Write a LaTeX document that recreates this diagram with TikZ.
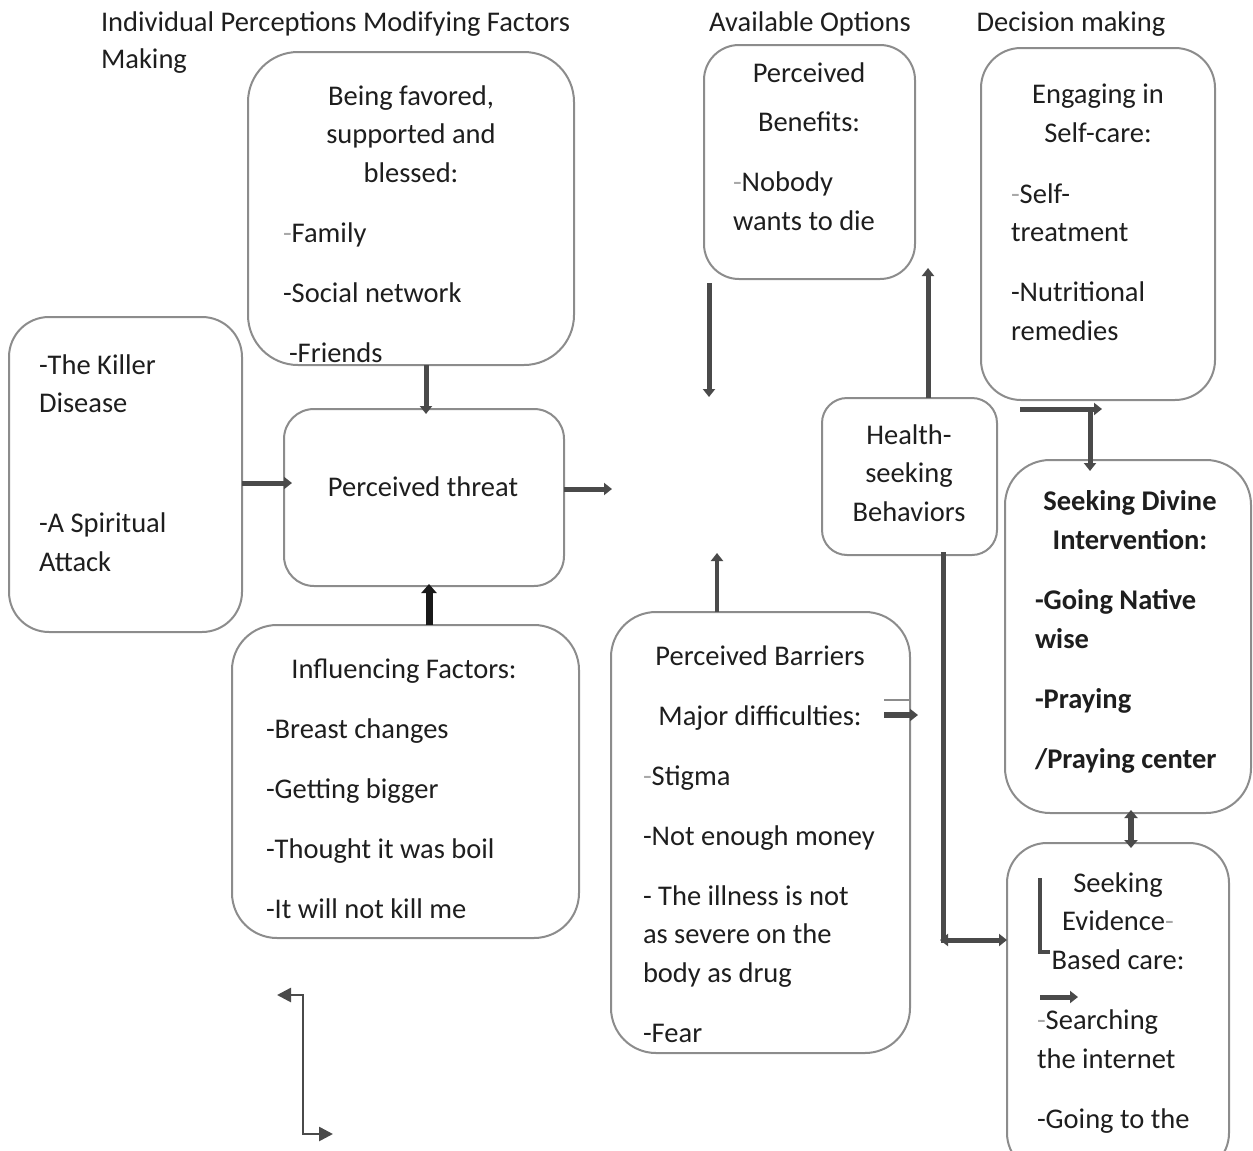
\documentclass[tikz,border=0pt]{standalone}
\usepackage{fontspec}
\setmainfont{Carlito}
\usetikzlibrary{arrows.meta}
\definecolor{bord}{HTML}{8C8C8C}
\definecolor{txt}{HTML}{1E1E1E}
\definecolor{arr}{HTML}{4A4A4A}
\definecolor{dashgray}{HTML}{A8A8A8}
\newcommand\gd{\textcolor{dashgray}{-}}
\begin{document}
\begin{tikzpicture}[x=1pt,y=-1pt,
  every node/.style={inner sep=0pt, outer sep=0pt, text=txt, font=\fontsize{28.5}{38.5}\selectfont},
  box/.style={draw=bord, line width=2pt, rounded corners=#1, fill=white, anchor=north west},
  lbl/.style={align=left, anchor=base west},
  ttl/.style={align=center, anchor=base},
  arrw/.style={draw=arr, line width=5pt, -{Triangle[width=12pt,length=8pt]}},
  thin/.style={draw=arr, line width=2.6pt}]
\useasboundingbox (0,0) rectangle (1253,1151);

% headers (multi-line nodes are placed by the baseline of their last line)
\node[lbl] (h1) at (101,68) {Individual Perceptions Modifying Factors\\[-1.5pt]Making};
\node[ttl] (h2) at (810,31) {Available Options};
\node[ttl] (h3) at (1071,31) {Decision making};

% boxes
\node[box=50pt, minimum width=326pt, minimum height=313pt] (fav) at (248,52) {};
\node[box=40pt, minimum width=233pt, minimum height=315pt] (kil) at (9,317) {};
\node[box=30pt, minimum width=280pt, minimum height=177pt] (thr) at (284,409) {};
\node[box=45pt, minimum width=347pt, minimum height=313pt] (inf) at (232,625) {};
\node[box=35pt, minimum width=211pt, minimum height=234pt] (ben) at (704,45) {};
\node[box=40pt, minimum width=234pt, minimum height=352pt] (eng) at (981,48) {};
\node[box=25pt, minimum width=175pt, minimum height=157pt] (hsb) at (822,398) {};
\node[box=45pt, minimum width=246pt, minimum height=353pt] (div) at (1005,460) {};
\node[box=45pt, minimum width=299pt, minimum height=441pt] (bar) at (611,612) {};
\node[box=40pt, minimum width=222pt, minimum height=330pt] (evi) at (1007,843) {};

% box texts
\node[ttl] (favt) at (411,182) {Being favored,\\supported and\\blessed:};
\node[lbl] (favb) at (283,362) {\gd Family\\[21.5pt]-Social network\\[21.5pt]\hspace*{6pt}-Friends};
\node[lbl] (kilt) at (39,571) {-The Killer\\Disease\\[81.5pt]-A Spiritual\\Attack};
\node[ttl] (thrt) at (423,496) {Perceived threat};
\node[ttl] (inft) at (404,678) {Influencing Factors:};
\node[lbl] (infb) at (266,918) {-Breast changes\\[21.5pt]-Getting bigger\\[21.5pt]-Thought it was boil\\[21.5pt]-It will not kill me};
\node[ttl] (bent) at (809,131) {Perceived\\[10.5pt]Benefits:};
\node[lbl] (benb) at (733,230) {\gd Nobody\\wants to die};
\node[ttl] (engt) at (1098,142) {Engaging in\\Self-care:};
\node[lbl] (engb) at (1011,340) {\gd Self-\\treatment\\[21.5pt]-Nutritional\\remedies};
\node[ttl] (hsbt) at (909,521) {Health-\\seeking\\Behaviors};
\node[ttl, font=\fontsize{28.5}{38.5}\selectfont\bfseries] (divt) at (1130,549) {Seeking Divine\\Intervention:};
\node[lbl, font=\fontsize{28.5}{38.5}\selectfont\bfseries] (divb) at (1035,768) {-Going Native\\wise\\[21.5pt]-Praying\\[21.5pt]/Praying center};
\node[ttl] (bart) at (760,725) {Perceived Barriers\\[21.5pt]Major difficulties:};
\node[lbl] (barb) at (643,1042) {\gd Stigma\\[21.5pt]-Not enough money\\[21.5pt]- The illness is not\\as severe on the\\body as drug\\[21.5pt]-Fear};
\node[ttl] (evit) at (1118,969) {Seeking\\Evidence\gd\\Based care:};
\node[lbl] (evib) at (1037,1128) {\gd Searching\\the internet\\[21.5pt]-Going to the};

% free coordinates
\coordinate (x426) at (426,0);
\coordinate (y483) at (0,483);
\coordinate (y489) at (0,489);
\coordinate (x429) at (429,0);
\coordinate (x717) at (717,0);
\coordinate (x928) at (928,0);
\coordinate (x943) at (943,0);
\coordinate (x1131) at (1131,0);
\coordinate (thrE) at (612,489);
\coordinate (p1) at (709,283);
\coordinate (p2) at (709,397);
\coordinate (p3) at (717,553);
\coordinate (p4) at (928,268);
\coordinate (p5) at (943,940);
\coordinate (q1) at (1020,409);
\coordinate (q2) at (1102,409);
\coordinate (q3) at (1090,409);
\coordinate (q4) at (1090,471);
\coordinate (m1) at (884,715);
\coordinate (m2) at (918,715);
\coordinate (l1) at (884,700);
\coordinate (l2) at (910,700);
\coordinate (k1) at (1040,878);
\coordinate (k2) at (1040,952);
\coordinate (k3) at (1050,952);
\coordinate (s1) at (1040,997);
\coordinate (s2) at (1078,997);
\coordinate (z1) at (277,995);
\coordinate (z2) at (303,995);
\coordinate (z3) at (303,1134);
\coordinate (z4) at (333,1134);

% connectors
\draw[arrw] (fav.south -| x426) -- ([yshift=-5pt]thr.north -| x426);
\draw[arrw] (kil.east |- y483) -- ([xshift=8pt]thr.west |- y483);
\draw[arrw] (thr.east |- y489) -- (thrE);
\draw[arrw, draw=black!90, line width=7pt, -{Triangle[width=15pt,length=9pt]}] (inf.north -| x429) -- ([yshift=2pt]thr.south -| x429);
\draw[arrw] (p1) -- (p2);
\draw[arrw, line width=4.5pt] (bar.north -| x717) -- (p3);
\draw[arrw] (hsb.north -| x928) -- (p4);
\draw[arrw] ([yshift=3pt]hsb.south -| x943) -- (p5) -- (evi.west |- p5);
\draw[arrw] ([xshift=3pt]p5) -- ([xshift=-3pt]p5);
\draw[arrw] (q1) -- (q2);
\draw[arrw] (q3) -- (q4);
\draw[arrw, line width=6pt, {Triangle[width=13pt,length=8pt]}-{Triangle[width=13pt,length=8pt]}] ([yshift=3pt]div.south -| x1131) -- ([yshift=-5pt]evi.north -| x1131);
\draw[arrw, line width=6pt] (m1) -- (m2);
\draw[draw=bord, line width=1.2pt] (l1) -- (l2);
\draw[thin, line width=4.5pt] (k1) -- (k2) -- (k3);
\draw[arrw] (s1) -- (s2);
\draw[thin, {Triangle[width=14pt,length=14pt]}-{Triangle[width=14pt,length=14pt]}] (z1) -- (z2) -- (z3) -- (z4);
\end{tikzpicture}
\end{document}
